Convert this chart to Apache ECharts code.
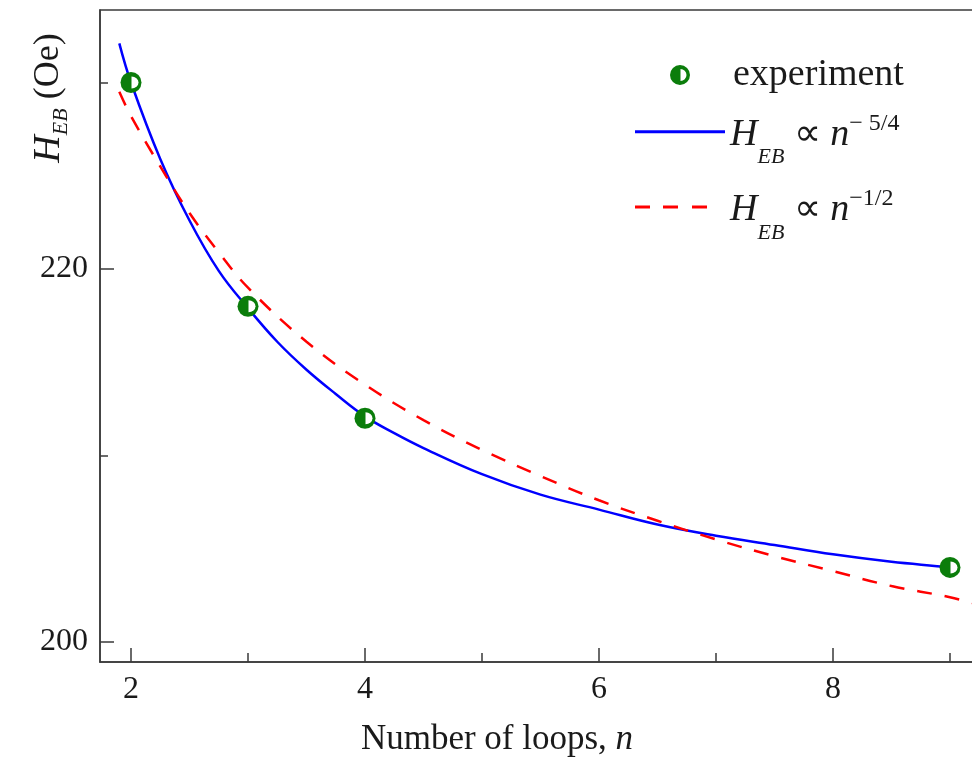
<!DOCTYPE html>
<html>
<head>
<meta charset="utf-8">
<script src="https://cdn.jsdelivr.net/npm/echarts@6/dist/echarts.min.js"></script>
<style>
  html, body { margin: 0; padding: 0; background: #fff; }
  #chart { width: 972px; height: 764px; }
</style>
</head>
<body>
<div id="chart"></div>
<script>
  // measured points
  var nExp = [2, 3, 4, 9];
  var hExp = [230.0, 218.0, 212.0, 204.0];

  // H_EB ~ n^-5/4 curve
  var nBlue = [1.9, 2, 2.25, 2.5, 2.75, 3, 3.25, 3.5, 3.75, 4, 4.25, 4.5, 5, 5.5, 6, 6.5, 7, 7.5, 8, 8.5, 9, 9.08];
  var hBlue = [232.1, 230.0, 225.9, 222.6, 219.9, 217.9, 216.1, 214.6, 213.3, 212.1, 211.2, 210.4, 209.0, 207.9, 207.1, 206.3, 205.7, 205.2, 204.7, 204.3, 204.0, 203.9];

  // H_EB ~ n^-1/2 curve
  var nRed = [1.9, 2, 2.25, 2.5, 2.75, 3, 3.5, 4, 4.5, 5, 5.5, 6, 6.5, 7, 7.5, 8, 8.5, 9, 9.3];
  var hRed = [229.5, 228.2, 225.5, 223.0, 220.9, 219.0, 216.1, 213.8, 211.9, 210.3, 208.9, 207.6, 206.5, 205.5, 204.6, 203.8, 203.0, 202.4, 201.9];

  var xMajor = [2, 4, 6, 8];
  var xMinor = [3, 5, 7, 9];
  var yMajor = [200, 220];
  var yMinor = [210, 230];

  function pairs(xs, ys) {
    var out = [];
    for (var i = 0; i < xs.length; i++) out.push([xs[i], ys[i]]);
    return out;
  }

  var serif = '"Liberation Serif", "Times New Roman", serif';
  var ink = '#1a1a1a';
  var axisColor = '#3a3a3a';
  var green = '#0b7d0b';
  var markerIcon = 'path://M10,0A10,10 0 1,1 10,20A10,10 0 1,1 10,0Z M10.5,4L10.5,16A6,6 0 0,0 10.5,4Z';

  var formulaRich = {
    i: { fontFamily: serif, fontStyle: 'italic', fontSize: 38, lineHeight: 38, padding: [14.5, 0, 0, 0], verticalAlign: 'top', color: ink },
    m: { fontFamily: serif, fontSize: 38, lineHeight: 38, padding: [14.5, 0, 0, 0], verticalAlign: 'top', color: ink },
    sb: { fontFamily: serif, fontStyle: 'italic', fontSize: 22, lineHeight: 22, padding: [45, 0, 0, 0], verticalAlign: 'top', color: ink },
    sp: { fontFamily: serif, fontSize: 24, lineHeight: 24, padding: [10, 0, 0, 0], verticalAlign: 'top', color: ink }
  };

  var xMin = 1.735, xMax = 9.2735;
  var yMin = 198.928, yMax = 233.888;

  var myChart = echarts.init(document.getElementById('chart'));
  myChart.setOption({
    backgroundColor: '#fff',
    animation: false,
    grid: {
      left: 100, right: -10, top: 10, bottom: 102,
      outerBoundsMode: 'none',
      containLabel: false,
      show: true, borderColor: axisColor, borderWidth: 1.5
    },
    xAxis: [
      {
        type: 'value', min: xMin, max: xMax, position: 'bottom',
        splitLine: { show: false },
        axisLine: { lineStyle: { color: axisColor, width: 1.5 } },
        axisTick: { inside: true, length: 14, customValues: xMajor, lineStyle: { color: axisColor, width: 1.5 } },
        axisLabel: { customValues: xMajor, margin: 12, fontFamily: serif, fontSize: 32, color: ink },
        name: '{a|Number of loops, }{b|n}',
        nameLocation: 'middle',
        nameGap: 60,
        nameTextStyle: {
          padding: [0, 88, 0, 0],
          rich: {
            a: { fontFamily: serif, fontSize: 35, lineHeight: 36, color: ink },
            b: { fontFamily: serif, fontStyle: 'italic', fontSize: 35, lineHeight: 36, color: ink }
          }
        }
      },
      {
        type: 'value', min: xMin, max: xMax, position: 'bottom',
        splitLine: { show: false },
        axisLine: { show: false },
        axisTick: { inside: true, length: 9, customValues: xMinor, lineStyle: { color: axisColor, width: 1.5 } },
        axisLabel: { show: false }
      }
    ],
    yAxis: [
      {
        type: 'value', min: yMin, max: yMax, position: 'left',
        splitLine: { show: false },
        axisLine: { show: true, lineStyle: { color: axisColor, width: 1.5 } },
        axisTick: { show: true, inside: true, length: 14, customValues: yMajor, lineStyle: { color: axisColor, width: 1.5 } },
        axisLabel: { customValues: yMajor, margin: 12, fontFamily: serif, fontSize: 32, color: ink }
      },
      {
        type: 'value', min: yMin, max: yMax, position: 'left',
        splitLine: { show: false },
        axisLine: { show: false },
        axisTick: { show: true, inside: true, length: 8, customValues: yMinor, lineStyle: { color: axisColor, width: 1.5 } },
        axisLabel: { show: false }
      }
    ],
    legend: [
      {
        data: [{ name: 'experiment', icon: markerIcon, itemStyle: { color: green, opacity: 1 } }],
        left: 670, top: 56, padding: 0,
        itemWidth: 20, itemHeight: 20,
        selectedMode: false,
        textStyle: { fontFamily: serif, fontSize: 38, lineHeight: 20, color: ink, padding: [0, 0, 0, 38] }
      },
      {
        data: [{ name: 'fit54', icon: 'path://M0,0h90v3h-90z' }],
        left: 635, top: 101.7, padding: 0,
        itemWidth: 90, itemHeight: 3,
        selectedMode: false,
        itemStyle: { borderWidth: 0 },
        formatter: function () { return '{i|H}{sb|EB}{m| \u221d }{i|n}{sp|\u2212 5/4}'; },
        textStyle: { rich: formulaRich, padding: [0, 0, 22, 0] }
      },
      {
        data: [{ name: 'fit12', icon: 'path://M0,0h15v3h-15z M28,0h15v3h-15z M57,0h15v3h-15z' }],
        left: 635, top: 177, padding: 0,
        itemWidth: 72, itemHeight: 3,
        selectedMode: false,
        itemStyle: { borderWidth: 0 },
        formatter: function () { return '{i|H}{sb|EB}{m| \u221d }{i|n}{sp|\u22121/2}'; },
        textStyle: { rich: formulaRich, padding: [0, 0, 22, 18] }
      }
    ],
    graphic: [
      {
        type: 'text',
        x: 46, y: 98,
        rotation: Math.PI / 2,
        style: {
          text: '{i|H}{s|EB}{n| (Oe)}',
          align: 'center',
          verticalAlign: 'middle',
          rich: {
            i: { fontFamily: serif, fontStyle: 'italic', fontSize: 38, lineHeight: 38, padding: [3.5, 0, 0, 0], verticalAlign: 'top', fill: ink },
            n: { fontFamily: serif, fontSize: 36, lineHeight: 38, padding: [3.5, 0, 0, 0], verticalAlign: 'top', fill: ink },
            s: { fontFamily: serif, fontStyle: 'italic', fontSize: 22, lineHeight: 22, padding: [23, 0, 0, 0], verticalAlign: 'top', fill: ink }
          }
        }
      }
    ],
    series: [
      {
        name: 'fit54',
        type: 'line',
        data: pairs(nBlue, hBlue),
        smooth: 0.4,
        symbol: 'none',
        color: '#0000ff',
        lineStyle: { color: '#0000ff', width: 2.5 },
        z: 2
      },
      {
        name: 'fit12',
        type: 'line',
        data: pairs(nRed, hRed),
        smooth: 0.4,
        symbol: 'none',
        color: '#ff0000',
        lineStyle: { color: '#ff0000', width: 2.5, type: [15, 13] },
        z: 3
      },
      {
        name: 'experiment',
        type: 'scatter',
        data: pairs(nExp, hExp),
        symbol: 'circle',
        symbolSize: 21,
        itemStyle: { color: green, opacity: 1 },
        z: 4
      },
      {
        name: 'experiment-inner',
        type: 'scatter',
        data: pairs(nExp, hExp),
        symbol: 'path://M0,0A7,6 0 0,1 0,12Z',
        symbolSize: [7, 12],
        symbolOffset: [4, 0],
        itemStyle: { color: '#fff', opacity: 1 },
        silent: true,
        z: 5
      }
    ]
  }, true);
</script>
</body>
</html>
